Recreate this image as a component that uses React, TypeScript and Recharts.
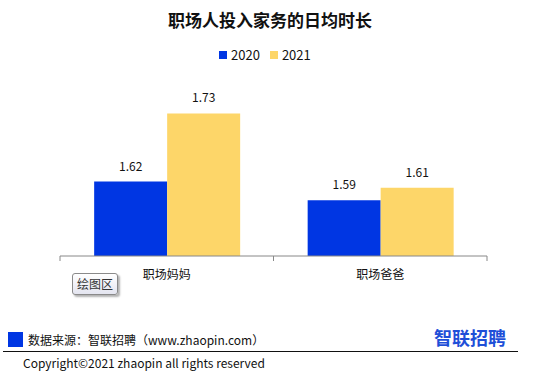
import React from 'react';
import { BarChart, Bar, XAxis, YAxis, LabelList } from 'recharts';

const categories = ['职场妈妈', '职场爸爸'];
const values2020 = [1.62, 1.59];
const values2021 = [1.73, 1.61];

const BLUE = '#0036E3';
const YELLOW = '#FDD669';
const FONT = '"Noto Sans CJK SC", "Noto Sans", sans-serif';

const data = categories.map((name, i) => ({
  name,
  y2020: values2020[i],
  y2021: values2021[i],
}));

const BAND = (487 - 60) / categories.length;

// category label plus the boundary ticks Excel draws between groups
const CategoryTick = (props: any) => {
  const { x, y, payload, index } = props;
  const left = x - BAND / 2;
  const right = x + BAND / 2;
  return (
    <g>
      <line x1={left} y1={y - 8} x2={left} y2={y - 3} stroke="#888" />
      {index === categories.length - 1 && (
        <line x1={right} y1={y - 8} x2={right} y2={y - 3} stroke="#888" />
      )}
      <text x={x} y={y + 15} textAnchor="middle" fontSize={12} fill="#111" fontFamily={FONT}>
        {payload.value}
      </text>
    </g>
  );
};

export default function App() {
  return (
    <div
      style={{
        position: 'absolute',
        left: 0,
        top: 0,
        width: 540,
        height: 380,
        background: '#fff',
        fontFamily: FONT,
        color: '#111',
      }}
    >
      <div
        style={{
          position: 'absolute',
          top: 8,
          width: 540,
          textAlign: 'center',
          fontSize: 17,
          fontWeight: 'bold',
          lineHeight: '24px',
        }}
      >
        职场人投入家务的日均时长
      </div>

      {/* legend */}
      <div
        style={{
          position: 'absolute',
          top: 46,
          left: 219,
          display: 'flex',
          alignItems: 'center',
          fontSize: 13,
          lineHeight: '18px',
        }}
      >
        <span style={{ width: 8, height: 8, background: BLUE, marginRight: 4 }} />
        <span style={{ marginRight: 10 }}>2020</span>
        <span style={{ width: 8, height: 8, background: YELLOW, marginRight: 4 }} />
        <span>2021</span>
      </div>

      <BarChart
        width={540}
        height={380}
        data={data}
        margin={{ top: 70, right: 53, bottom: 94, left: 60 }}
        barCategoryGap="16%"
        barGap={0}
        style={{ position: 'absolute', left: 0, top: 0 }}
      >
        <YAxis hide domain={[1.5, 1.8]} />
        <XAxis
          dataKey="name"
          axisLine={{ stroke: '#888' }}
          tickLine={false}
          tick={<CategoryTick />}
          interval={0}
        />
        <Bar dataKey="y2020" fill={BLUE} isAnimationActive={false}>
          <LabelList dataKey="y2020" position="top" offset={11} fontSize={12} fill="#111" fontFamily={FONT} />
        </Bar>
        <Bar dataKey="y2021" fill={YELLOW} isAnimationActive={false}>
          <LabelList dataKey="y2021" position="top" offset={11} fontSize={12} fill="#111" fontFamily={FONT} />
        </Bar>
      </BarChart>

      {/* Excel's hover tooltip left in the screenshot */}
      <div
        style={{
          position: 'absolute',
          left: 72,
          top: 273,
          width: 44,
          height: 20,
          border: '1px solid #8a8a8a',
          borderRadius: 3,
          background: 'linear-gradient(#ffffff, #e4e5f0)',
          boxShadow: '2px 2px 2px rgba(0,0,0,0.3)',
          fontSize: 12,
          lineHeight: '20px',
          textAlign: 'center',
          color: '#333',
        }}
      >
        绘图区
      </div>

      {/* footer */}
      <div style={{ position: 'absolute', left: 8, top: 332, width: 15, height: 15, background: BLUE }} />
      <div style={{ position: 'absolute', left: 28, top: 331, fontSize: 12, lineHeight: '18px' }}>
        数据来源：智联招聘（www.zhaopin.com）
      </div>
      <div
        style={{
          position: 'absolute',
          left: 434,
          top: 325,
          fontSize: 18,
          fontWeight: 'bold',
          color: '#1E4FD8',
          lineHeight: '24px',
        }}
      >
        智联招聘
      </div>
      <div style={{ position: 'absolute', left: 3, top: 351, width: 515, height: 1, background: '#111' }} />
      <div style={{ position: 'absolute', left: 23, top: 354, fontSize: 12, lineHeight: '18px' }}>
        Copyright©2021 zhaopin all rights reserved
      </div>
    </div>
  );
}
